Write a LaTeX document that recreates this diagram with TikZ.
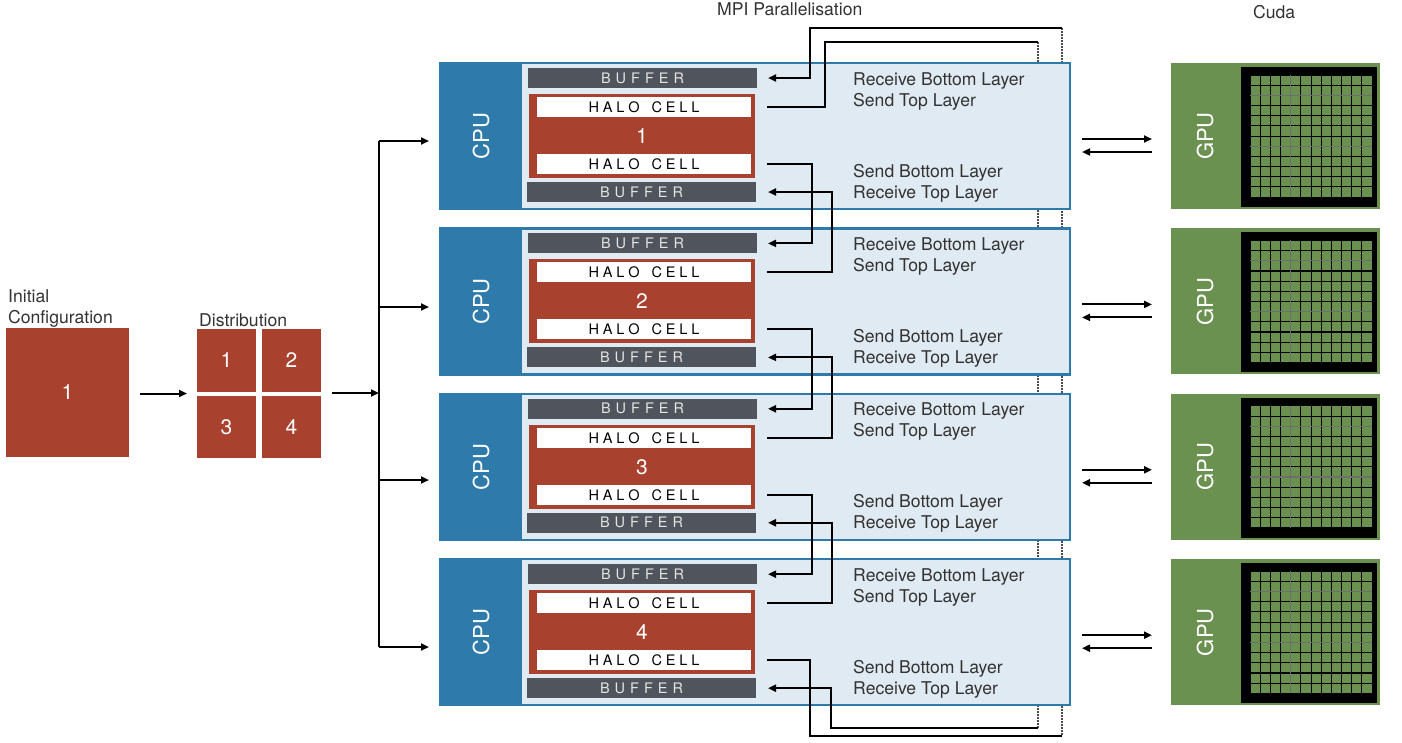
\documentclass[tikz,border=0pt]{standalone}
\usepackage{fontspec}
\setmainfont{TeX Gyre Heros}
\usetikzlibrary{calc,arrows.meta}
\definecolor{cellred}{HTML}{A9412F}
\definecolor{cpublue}{HTML}{2E7BAB}
\definecolor{panelfill}{HTML}{DFEAF2}
\definecolor{bufgray}{HTML}{50555D}
\definecolor{buftext}{HTML}{E4E4E4}
\definecolor{gpugreen}{HTML}{6A914F}
\definecolor{txtgray}{HTML}{333333}
\definecolor{gridgray}{HTML}{6E6E6E}
\newcommand\bls{\kern5pt}
\newcommand\hls{\kern3.9pt}
\begin{document}
\begin{tikzpicture}[x=1pt,y=-1pt,
 lbl/.style={font=\fontsize{17.6}{21}\selectfont,text=txtgray,inner sep=0pt,anchor=base west},
 sq/.style={inner sep=0pt,outer sep=0pt,anchor=north west},
 redbox/.style={sq,fill=cellred,text=white,font=\fontsize{21}{24}\selectfont},
 panel/.style={sq,draw=cpublue,line width=2.5pt,fill=panelfill,minimum width=630pt,minimum height=146pt},
 cpubox/.style={sq,fill=cpublue,minimum width=82pt,minimum height=146pt},
 buf/.style={sq,fill=bufgray,text=buftext,minimum width=229pt,minimum height=20pt,font=\fontsize{14.5}{16}\selectfont},
 halo/.style={sq,fill=white,text=black,minimum width=214pt,minimum height=20pt,font=\fontsize{14.5}{16}\selectfont},
 vlabel/.style={rotate=90,text=white,font=\fontsize{22}{24}\selectfont,inner sep=0pt},
 conn/.style={line width=2pt,black},
 arr/.style={conn,-{Triangle[length=8pt,width=7pt]}},
 wrap/.style={line width=1.2pt,black!70,dash pattern=on 1.5pt off 1.5pt},
 gpubox/.style={sq,fill=gpugreen,minimum width=209pt,minimum height=146pt},
]
\useasboundingbox (0,0) rectangle (1402,742);
\fill[white] (0,0) rectangle (1402,742);
% titles
\node[lbl] (mpi) at (717,15) {MPI Parallelisation};
\node[lbl] (cuda) at (1253,18) {Cuda};
% wrap-around coordinates
\coordinate (a1) at (825,42);
\coordinate (a2) at (1038,42);
\coordinate (a3) at (1038,728);
\coordinate (a4) at (831,728);
\coordinate (b1) at (810,28);
\coordinate (b2) at (1062,28);
\coordinate (b3) at (1062,736);
\coordinate (b4) at (810,736);
\draw[wrap] (a2) -- (a3);
\draw[wrap] (b2) -- (b3);
% left part
\node[lbl] (initl) at (8,302) {Initial};
\node[lbl] (confl) at (8,323) {Configuration};
\node[redbox,minimum width=123pt,minimum height=129pt] (init) at (6,328) {1};
\node[lbl] (distl) at (199,326) {Distribution};
\node[redbox,minimum width=59pt,minimum height=63pt] (d1) at (197,329) {1};
\node[redbox,minimum width=59pt,minimum height=63pt] (d2) at (262,329) {2};
\node[redbox,minimum width=59pt,minimum height=62pt] (d3) at (197,396) {3};
\node[redbox,minimum width=59pt,minimum height=62pt] (d4) at (262,396) {4};
\draw[arr] ($(init.east)+(11,1)$) -- ($(d1.west|-init.east)+(-10,1)$);
\coordinate (busmid) at (379,393);
\coordinate (bustop) at (379,141);
\coordinate (busbot) at (379,647);
\draw[arr] ($(d2.east|-busmid)+(11,0)$) -- (busmid);
\draw[conn] (bustop) -- (busbot);
% blocks
\foreach \i in {1,...,4}{
 \pgfmathsetmacro\T{63+165.4*(\i-1)}
 \node[panel] (panel\i) at (440,\T) {};
 \node[cpubox] (cpu\i) at (440,\T) {};
 \node[vlabel] (cpul\i) at (cpu\i.center) {CPU};
 \node[buf] (tb\i) at (528,\T+5) {B\bls U\bls F\bls F\bls E\bls R};
 \node[redbox,minimum width=226pt,minimum height=84pt] (red\i) at (529,\T+31) {\i};
 \node[halo] (ht\i) at (537,\T+34) {H\hls A\hls L\hls O\hls\ \hls C\hls E\hls L\hls L};
 \node[halo] (hb\i) at (537,\T+91) {H\hls A\hls L\hls O\hls\ \hls C\hls E\hls L\hls L};
 \node[buf] (bb\i) at (527,\T+119) {B\bls U\bls F\bls F\bls E\bls R};
 \node[lbl] (rbl\i) at (853,\T+22) {Receive Bottom Layer};
 \node[lbl] (stl\i) at (853,\T+43) {Send Top Layer};
 \node[lbl] (sbl\i) at (853,\T+114) {Send Bottom Layer};
 \node[lbl] (rtl\i) at (853,\T+135) {Receive Top Layer};
 % GPU
 \node[gpubox] (gpu\i) at (1171,\T) {};
 \fill[black] (1241,\T+4) rectangle (1377,\T+144);
 \foreach \r in {0,...,11}{\foreach \c in {0,...,11}{
   \fill[gpugreen] (1250.6+\c*10.17,\T+12.6+\r*10.17) rectangle ++(9.1,9.1);}}
 \draw[gridgray,line width=1.2pt] (1290.7,\T+12) -- (1290.7,\T+134);
 \draw[gridgray,line width=1.2pt] (1250,\T+32.3) -- (1372,\T+32.3);
 \draw[gridgray,line width=1.2pt] (1250,\T+83.2) -- (1372,\T+83.2);
 \node[vlabel] (gpul\i) at (1205,\T+73) {GPU};
 \draw[arr] ($(panel\i.east)+(12,3)$) -- ($(gpu\i.west)+(-19,3)$);
 \draw[arr] ($(gpu\i.west)+(-19,16)$) -- ($(panel\i.east)+(12,16)$);
}
% bus branches
\foreach \i/\yy in {1/141,2/307,3/480,4/647}{
 \coordinate (br\i) at (379,\yy);
 \draw[arr,shorten >=11pt] (br\i) -- (br\i -| cpu\i.west);
}
% neighbour exchange
\foreach \i/\j in {1/2,2/3,3/4}{
 \draw[arr] ($(hb\i.east)+(16,0)$) -| ($(tb\j.east)+(55,0)$) -- ($(tb\j.east)+(11,0)$);
 \draw[arr] ($(ht\j.east)+(16,0)$) -| ($(bb\i.east)+(76,0)$) -- ($(bb\i.east)+(12,0)$);
}
% periodic wrap
\draw[conn] ($(ht1.east)+(16,0)$) -| (a1) -- (a2);
\draw[arr] (a3) -- (a4) |- ($(bb4.east)+(12,0)$);
\draw[conn] ($(hb4.east)+(16,0)$) -| (b4) -- (b3);
\draw[arr] (b2) -- (b1) |- ($(tb1.east)+(11,0)$);
\end{tikzpicture}
\end{document}
